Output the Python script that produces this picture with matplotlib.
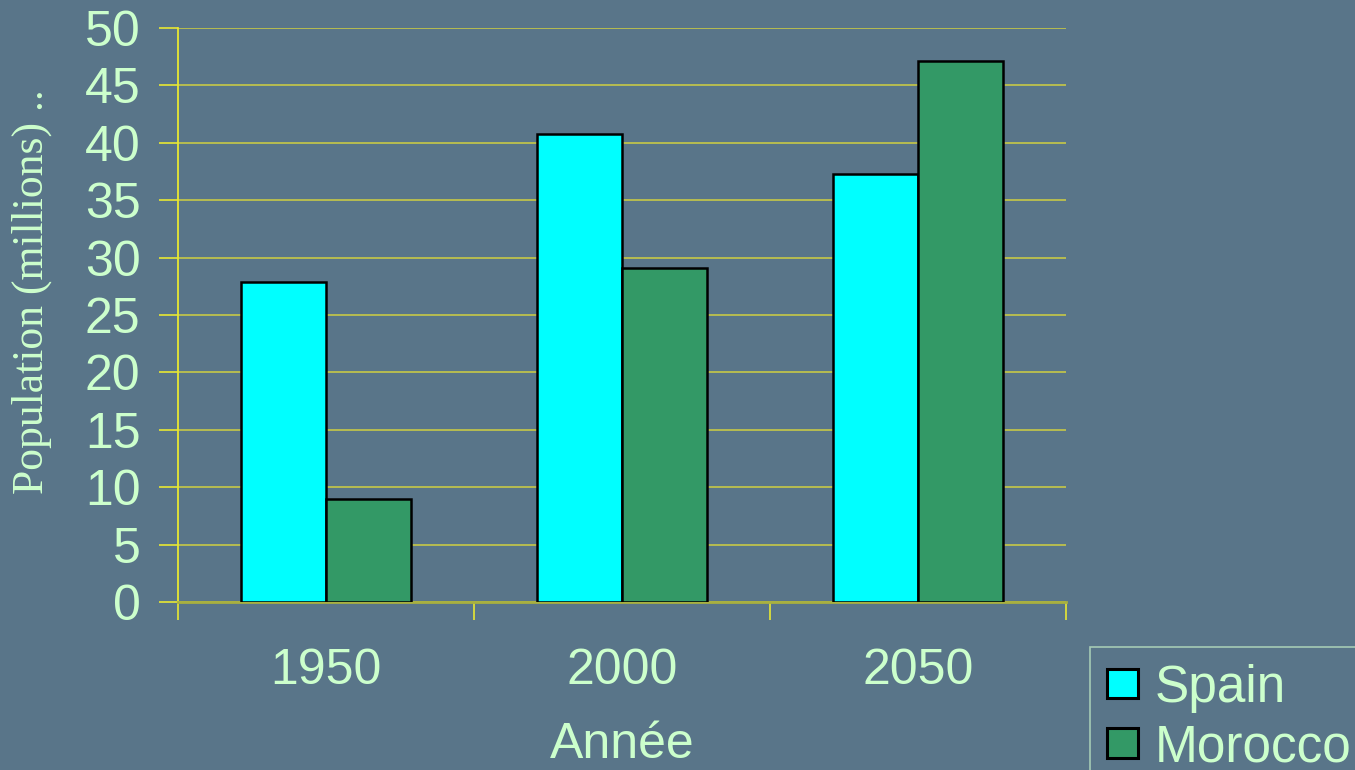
import matplotlib
matplotlib.use("Agg")
import matplotlib.pyplot as plt
import numpy as np

years = ["1950", "2000", "2050"]
spain = [27.9, 40.8, 37.3]
morocco = [9.0, 29.1, 47.1]
yticks = [0, 5, 10, 15, 20, 25, 30, 35, 40, 45, 50]

bg = "#597589"
txt = "#ccffcc"
yel = "#e8e832"
grid_c = "#d0d040"

fig = plt.figure(figsize=(13.55, 7.7), dpi=100, facecolor=bg)
ax = fig.add_axes([178/1355, 1-602/770, (1066-178)/1355, (602-28)/770])
ax.set_facecolor(bg)

x = np.arange(len(years))
w = 0.287
ax.bar(x - w/2, spain, w, color="#00ffff", edgecolor="black", linewidth=1.8, label="Spain", zorder=3)
ax.bar(x + w/2, morocco, w, color="#339966", edgecolor="black", linewidth=1.8, label="Morocco", zorder=3)

ax.set_xlim(-0.5, 2.5)
ax.set_ylim(0, 50)
ax.set_yticks(yticks)
ax.set_yticklabels([str(t) for t in yticks], fontsize=36, color=txt, family="Liberation Sans")
ax.set_xticks(x)
ax.set_xticklabels(years, fontsize=36, color=txt, family="Liberation Sans")
ax.set_xticks([-0.5, 0.5, 1.5, 2.5], minor=True)
ax.tick_params(axis="x", which="major", length=0, pad=33)
ax.tick_params(axis="x", which="minor", length=13, color=yel, width=1.2, direction="out")
ax.tick_params(axis="y", length=14, color=yel, width=1.2, pad=13, direction="out")

ax.yaxis.grid(True, color=grid_c, linewidth=1.1, zorder=1)
ax.set_axisbelow(True)
for s in ["top", "right"]:
    ax.spines[s].set_visible(False)
ax.spines["left"].set_color(yel)
ax.spines["left"].set_linewidth(1.3)
ax.spines["bottom"].set_color("#a8b040")
ax.spines["bottom"].set_linewidth(2)

ax.set_xlabel("Année", fontsize=36, color=txt, family="Liberation Sans", labelpad=20)
ax.set_ylabel("Population (millions) ..", fontsize=31.5, color=txt, family="Liberation Serif")
ax.yaxis.set_label_coords(-0.142, 0.54)

leg = fig.legend(loc="upper left", bbox_to_anchor=(1090/1355, 1-647/770),
                 prop={"family": "Liberation Sans", "size": 37}, frameon=True, fancybox=False,
                 handlelength=0.6, handleheight=0.5, handletextpad=0.33, borderpad=0.33,
                 labelspacing=0.2, borderaxespad=0)
leg.get_frame().set_facecolor(bg)
leg.get_frame().set_edgecolor("#b8e0c0")
leg.get_frame().set_linewidth(1.2)
for t in leg.get_texts():
    t.set_color(txt)
for h in leg.legend_handles:
    h.set_linewidth(2.2)

fig.savefig("out.png", dpi=100, facecolor=bg)
